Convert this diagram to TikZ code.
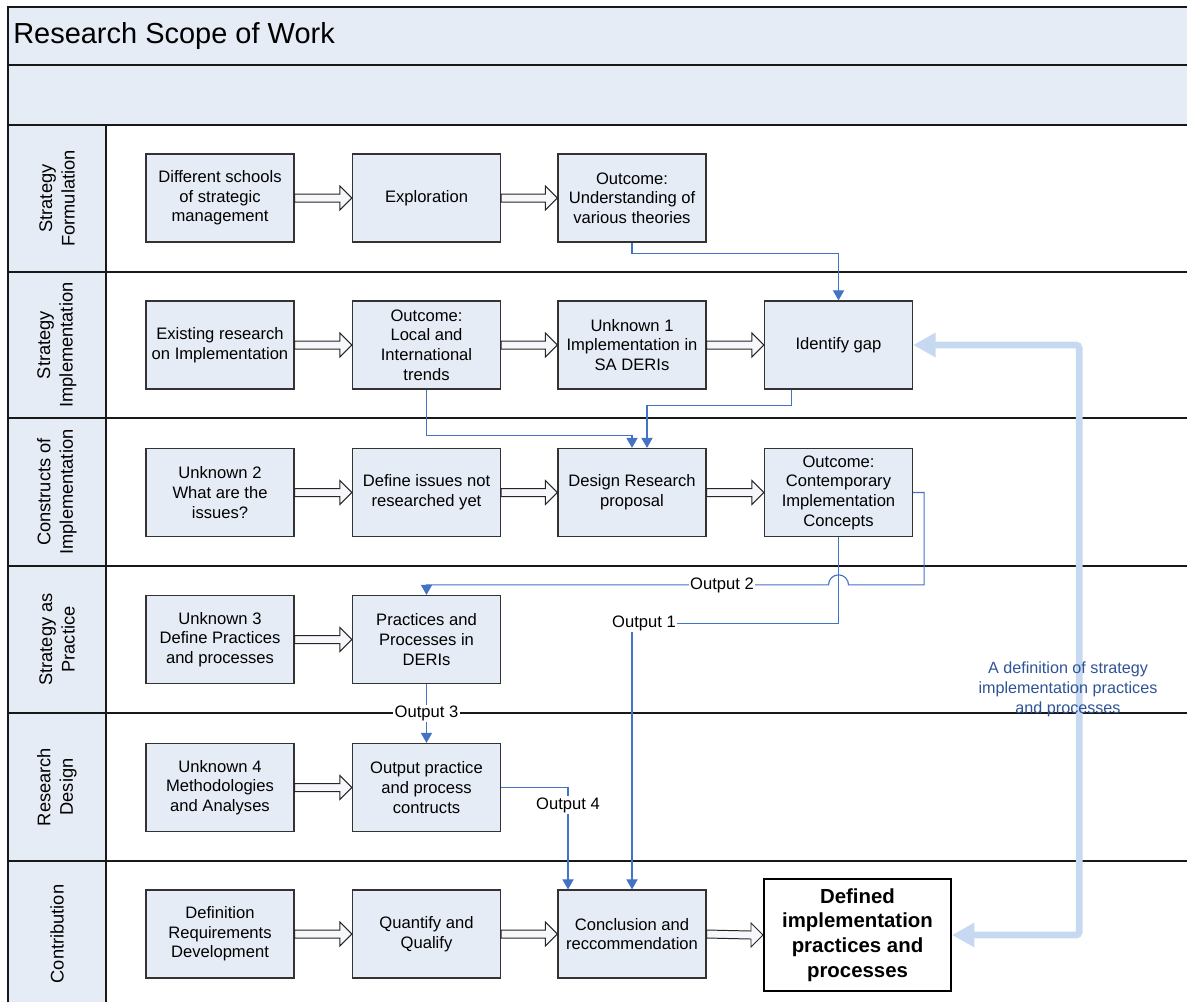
\documentclass[tikz,border=0pt]{standalone}
\usepackage{fontspec}
\setmainfont{Liberation Sans}
\usetikzlibrary{arrows.meta,calc}
\definecolor{boxfill}{RGB}{230,236,246}
\definecolor{flowblue}{RGB}{68,114,196}
\definecolor{gapblue}{RGB}{198,217,241}
\definecolor{noteblue}{RGB}{47,84,150}
\tikzset{stage/.style={rectangle,draw=black!80,fill=boxfill,line width=0.9pt,minimum width=3.7cm,minimum height=2.2cm,align=center,inner sep=1pt,font=\fontsize{11.8}{14}\selectfont}}
\tikzset{result/.style={stage,fill=white,draw=black,line width=1.4pt,minimum width=4.675cm,minimum height=2.8cm,font=\fontsize{14.5}{17.5}\selectfont\bfseries}}
\tikzset{lane/.style={rotate=90,align=center,font=\fontsize{13}{16}\selectfont},lanerule/.style={draw=black!90,line width=0.9pt}}
\tikzset{flow/.style={draw=flowblue,line width=0.8pt,-{Triangle[width=0.28cm,length=0.25cm]}},outlbl/.style={fill=white,inner sep=1pt,font=\fontsize{11.8}{14}\selectfont}}
\tikzset{blk/.style={draw=black!85,fill=boxfill!40,line width=0.7pt,
  to path={($(\tikztostart.east)+(0,-4)$) -- ($(\tikztotarget.west)+(-12,-4)$) -- ($(\tikztotarget.west)+(-12,-12)$) -- (\tikztotarget.west)
  -- ($(\tikztotarget.west)+(-12,12)$) -- ($(\tikztotarget.west)+(-12,4)$) -- ($(\tikztostart.east)+(0,4)$) -- cycle}}}
\tikzset{gaparrow/.style={draw=gapblue,line width=0.17cm,rounded corners=0.08cm,{Triangle[width=0.58cm,length=0.56cm]}-{Triangle[width=0.58cm,length=0.56cm]}}}

\begin{document}
\begin{tikzpicture}[x=0.025cm,y=-0.025cm]
  \useasboundingbox (0,0) rectangle (1187,1002);
  \clip (0,0) rectangle (1187,1002);
  % pool header and lane labels column
  \fill[boxfill] (8,7) rectangle (1187,125);
  \fill[boxfill] (8,125) rectangle (106,1002);
  \draw[lanerule] (8,1002) -- (8,7) -- (1187,7)
  (8,65) -- (1187,65)
  (8,125) -- (1187,125)
  (8,272) -- (1187,272)
  (8,418) -- (1187,418)
  (8,566) -- (1187,566)
  (8,713) -- (1187,713)
  (8,861) -- (1187,861)
  (106,125) -- (106,1002);
  \node[anchor=west,inner sep=0pt,font=\fontsize{20.6}{24}\selectfont] (title) at (13,36) {Research Scope of Work};

  \node[lane] (l1) at (57,198.5) {Strategy\\Formulation};
  \node[lane] (l2) at (57,345) {Strategy\\Implementation};
  \node[lane] (l3) at (57,492) {Constructs of\\Implementation};
  \node[lane] (l4) at (57,639.5) {Strategy as\\Practice};
  \node[lane] (l5) at (57,787) {Research\\Design};
  \node[lane] (l6) at (57,934) {Contribution};

  \node[stage] (A1) at (220,198) {Different schools\\of strategic\\management};
  \node[stage] (A2) at (426.5,198) {Exploration};
  \node[stage] (A3) at (632,198) {Outcome:\\Understanding of\\various theories};

  \node[stage] (B1) at (220,345) {Existing research\\on Implementation};
  \node[stage] (B2) at (426.5,345) {Outcome:\\Local and\\International\\trends};
  \node[stage] (B3) at (632,345) {Unknown 1\\Implementation in\\SA DERIs};
  \node[stage] (B4) at (838.5,345) {Identify gap};

  \node[stage] (C1) at (220,492.5) {Unknown 2\\What are the\\issues?};
  \node[stage] (C2) at (426.5,492.5) {Define issues not\\researched yet};
  \node[stage] (C3) at (632,492.5) {Design Research\\proposal};
  \node[stage] (C4) at (838.5,492.5) {Outcome:\\Contemporary\\Implementation\\Concepts};

  \node[stage] (D1) at (220,639.5) {Unknown 3\\Define Practices\\and processes};
  \node[stage] (D2) at (426.5,639.5) {Practices and\\Processes in\\DERIs};

  \node[stage] (E1) at (220,787.5) {Unknown 4\\Methodologies\\and Analyses};
  \node[stage] (E2) at (426.5,787.5) {Output practice\\and process\\contructs};

  \node[stage] (F1) at (220,934) {Definition\\Requirements\\Development};
  \node[stage] (F2) at (426.5,934) {Quantify and\\Qualify};
  \node[stage] (F3) at (632,934) {Conclusion and\\reccommendation};
  \node[result] (F4) at (857.5,935) {Defined\\implementation\\practices and\\processes};

  \draw[blk] (A1) to (A2) (A2) to (A3)
  (B1) to (B2) (B2) to (B3) (B3) to (B4)
  (C1) to (C2) (C2) to (C3) (C3) to (C4)
  (D1) to (D2)
  (E1) to (E2)
  (F1) to (F2) (F2) to (F3) (F3) to (F4);

  \draw[flow] (A3.south) -- ++(0,11) -| (B4.north);
  \draw[flow] (B2.south) -- ++(0,46) -| (C3.north);
  \draw[flow] ($(B4.south)+(-47,0)$) -- ++(0,16) -| ($(C3.north)+(15,0)$);
  \coordinate (jmp) at ($(C4.south |- D2.north)+(0,-10)$);
  \draw[flow] (C4.east) -- ++(11,0) |- ($(jmp)+(10,0)$) arc[start angle=0,end angle=180,radius=0.25cm] -| (D2.north);
  \draw[flow] (C4.south) |- ($(F3.north |- C4.south)+(0,86)$) -- (F3.north);
  \draw[flow] (D2.south) -- node[outlbl] (out3) {Output 3} (E2.north);
  \draw[flow] (E2.east) -| ($(F3.north)+(-64,0)$);
  \node[outlbl] (out1) at (644,623) {Output 1};
  \node[outlbl] (out2) at (722,585) {Output 2};
  \node[outlbl] (out4) at (568,805) {Output 4};

  \draw[gaparrow] (B4.east) -- ++(166,0) |- (F4.east);
  \node[align=center,text=noteblue,font=\fontsize{11.5}{14.2}\selectfont] (gapnote) at (1068,689) {A definition of strategy\\implementation practices\\and processes};
\end{tikzpicture}
\end{document}
